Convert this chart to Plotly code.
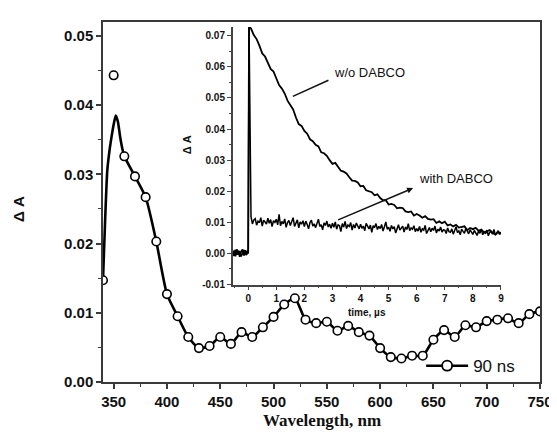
import plotly.graph_objects as go

# ---------------- main spectrum (90 ns) ----------------
wavelength = [340, 350, 360, 370, 380, 390, 400, 410, 420, 430, 440, 450, 460, 470,
              480, 490, 500, 510, 520, 530, 540, 550, 560, 570, 580, 590, 600, 610,
              620, 630, 640, 650, 660, 670, 680, 690, 700, 710, 720, 730, 740, 750]
delta_a = [0.0147, 0.0443, 0.0326, 0.0297, 0.0267, 0.0203, 0.0127, 0.0095, 0.0065, 0.0049,
           0.0052, 0.0065, 0.0055, 0.0072, 0.0065, 0.0079, 0.0094, 0.0112, 0.0121, 0.0090,
           0.0085, 0.0087, 0.0074, 0.0081, 0.0072, 0.0067, 0.0049, 0.0036, 0.0034, 0.0038,
           0.0038, 0.0061, 0.0075, 0.0065, 0.0082, 0.0079, 0.0088, 0.0090, 0.0092, 0.0085,
           0.0098, 0.0102]

# smoothed curve drawn through the spectrum
curve_wl = [340, 342, 344, 346, 348, 350, 352, 354, 356, 358, 360, 370, 380, 390, 400, 410,
            420, 430, 440, 450, 460, 470, 480, 490, 500, 510, 520, 530, 540, 550, 560, 570,
            580, 590, 600, 610, 620, 630, 640, 650, 660, 670, 680, 690, 700, 710, 720, 730,
            740, 750]
curve_val = [0.0147, 0.0234, 0.0305, 0.0333, 0.0354, 0.0372, 0.0385, 0.0376, 0.0355, 0.0338,
             0.0326, 0.0297, 0.0267, 0.0203, 0.0127, 0.0095, 0.0065, 0.0049, 0.0052, 0.0065,
             0.0055, 0.0072, 0.0065, 0.0079, 0.0094, 0.0112, 0.0121, 0.0090, 0.0085, 0.0087,
             0.0074, 0.0081, 0.0072, 0.0067, 0.0049, 0.0036, 0.0034, 0.0038, 0.0038, 0.0061,
             0.0075, 0.0065, 0.0082, 0.0079, 0.0088, 0.0090, 0.0092, 0.0085, 0.0098, 0.0102]

main_xticks = [350, 400, 450, 500, 550, 600, 650, 700, 750]
main_yticks = [0.00, 0.01, 0.02, 0.03, 0.04, 0.05]
main_ytext = ["0.00", "0.01", "0.02", "0.03", "0.04", "0.05"]

# ---------------- inset kinetics ----------------
pre_t = [-0.55, -0.5, -0.45, -0.4, -0.35, -0.3, -0.25, -0.2, -0.15, -0.1, -0.05, 0.0, 0.03]
pre_wo = [0.0005, -0.0008, 0.0012, -0.0004, 0.0009, -0.0011, 0.0006, 0.0013, -0.0007,
          0.0010, -0.0002, 0.0003, 0.0731]
pre_with = [-0.0006, 0.0010, -0.0009, 0.0014, -0.0003, 0.0008, -0.0010, 0.0004, 0.0011,
            -0.0005, 0.0007, 0.0000, 0.0729]

# w/o DABCO, sampled every 0.1 us from 0.1 us
a_wo = [0.0723, 0.0702, 0.0689, 0.0668, 0.0643, 0.0633, 0.0612, 0.0593, 0.0585, 0.0561,
        0.0541, 0.0530, 0.0514, 0.0491, 0.0477, 0.0463, 0.0437, 0.0416, 0.0410, 0.0394,
        0.0385, 0.0367, 0.0361, 0.0349, 0.0344, 0.0325, 0.0322, 0.0314, 0.0300, 0.0288,
        0.0291, 0.0277, 0.0266, 0.0263, 0.0257, 0.0245, 0.0234, 0.0233, 0.0228, 0.0216,
        0.0217, 0.0203, 0.0201, 0.0197, 0.0187, 0.0190, 0.0178, 0.0171, 0.0171, 0.0157,
        0.0159, 0.0156, 0.0145, 0.0147, 0.0146, 0.0135, 0.0133, 0.0135, 0.0122, 0.0127,
        0.0122, 0.0115, 0.0120, 0.0111, 0.0109, 0.0110, 0.0098, 0.0103, 0.0097, 0.0102,
        0.0090, 0.0093, 0.0087, 0.0092, 0.0083, 0.0085, 0.0087, 0.0075, 0.0082, 0.0078,
        0.0082, 0.0073, 0.0077, 0.0068, 0.0072, 0.0075, 0.0066, 0.0061, 0.0068, 0.0066]
t_wo = [round(0.1 + 0.1 * i, 2) for i in range(len(a_wo))]

# with DABCO, sampled every 0.05 us from 0.1 us
a_with = [0.0118, 0.0095, 0.0108, 0.0112, 0.0091, 0.0104, 0.0099, 0.0115, 0.0088, 0.0107,
          0.0101, 0.0094, 0.0113, 0.0097, 0.0109, 0.0086, 0.0105, 0.0100,
          0.0110, 0.0092, 0.0126, 0.0089, 0.0103, 0.0095, 0.0111, 0.0084, 0.0099, 0.0106,
          0.0090, 0.0102, 0.0115, 0.0087, 0.0096, 0.0108, 0.0082, 0.0101, 0.0094, 0.0105,
          0.0086, 0.0104, 0.0093, 0.0079, 0.0099, 0.0107, 0.0088, 0.0095, 0.0083, 0.0101,
          0.0110, 0.0087, 0.0092, 0.0076, 0.0098, 0.0090, 0.0104, 0.0085, 0.0094, 0.0081,
          0.0097, 0.0084, 0.0101, 0.0078, 0.0092, 0.0089, 0.0070, 0.0096, 0.0085, 0.0103,
          0.0080, 0.0091, 0.0087, 0.0099, 0.0075, 0.0093, 0.0082, 0.0098, 0.0086, 0.0079,
          0.0094, 0.0081, 0.0088, 0.0073, 0.0097, 0.0085, 0.0079, 0.0091, 0.0068, 0.0089,
          0.0083, 0.0096, 0.0077, 0.0087, 0.0080, 0.0093, 0.0072, 0.0086, 0.0101, 0.0078,
          0.0084, 0.0071, 0.0090, 0.0079, 0.0086, 0.0066, 0.0083, 0.0092, 0.0075, 0.0081,
          0.0088, 0.0069, 0.0085, 0.0077, 0.0096, 0.0073, 0.0082, 0.0078, 0.0089, 0.0070,
          0.0080, 0.0072, 0.0087, 0.0068, 0.0079, 0.0075, 0.0090, 0.0064, 0.0077, 0.0083,
          0.0070, 0.0081, 0.0074, 0.0088, 0.0066, 0.0078, 0.0072, 0.0085, 0.0069, 0.0076,
          0.0075, 0.0064, 0.0082, 0.0070, 0.0068, 0.0079, 0.0062, 0.0074, 0.0086, 0.0067,
          0.0072, 0.0060, 0.0078, 0.0071, 0.0065, 0.0081, 0.0069, 0.0063, 0.0076, 0.0070,
          0.0061, 0.0074, 0.0067, 0.0058, 0.0072, 0.0065, 0.0078, 0.0060, 0.0069, 0.0063,
          0.0075, 0.0057, 0.0068, 0.0071, 0.0062, 0.0077, 0.0059, 0.0066, 0.0073, 0.0061,
          0.0067]
t_with = [round(0.1 + 0.05 * i, 2) for i in range(len(a_with))]

inset_xticks = [0, 1, 2, 3, 4, 5, 6, 7, 8, 9]
inset_yticks = [-0.01, 0.00, 0.01, 0.02, 0.03, 0.04, 0.05, 0.06, 0.07]
inset_ytext = ["-0.01", "0.00", "0.01", "0.02", "0.03", "0.04", "0.05", "0.06", "0.07"]

SANS = "Liberation Sans, Arial, sans-serif"
SERIF = "Liberation Serif, Times New Roman, serif"
FRAME = "#3a3a3a"

fig = go.Figure()

# spectrum: smoothed line, markers, legend entry
fig.add_trace(go.Scatter(x=curve_wl, y=curve_val, mode="lines", showlegend=False,
                         line=dict(color="black", width=2.6, shape="spline", smoothing=0.6),
                         xaxis="x", yaxis="y", hoverinfo="skip"))
fig.add_trace(go.Scatter(x=wavelength, y=delta_a, mode="markers", showlegend=False,
                         marker=dict(color="white", size=8.5, line=dict(color="black", width=1.6)),
                         xaxis="x", yaxis="y"))
fig.add_trace(go.Scatter(x=[None], y=[None], mode="lines+markers", name="90 ns",
                         line=dict(color="black", width=2.6),
                         marker=dict(color="white", size=10, line=dict(color="black", width=1.8)),
                         xaxis="x", yaxis="y"))

# inset kinetics
fig.add_trace(go.Scatter(x=pre_t + t_with, y=pre_with + a_with, mode="lines", showlegend=False,
                         line=dict(color="black", width=1.5), xaxis="x2", yaxis="y2"))
fig.add_trace(go.Scatter(x=pre_t + t_wo, y=pre_wo + a_wo, mode="lines", showlegend=False,
                         line=dict(color="black", width=1.8), xaxis="x2", yaxis="y2"))

fig.update_layout(
    width=557, height=435,
    margin=dict(l=95, r=14, t=12, b=61),
    paper_bgcolor="white", plot_bgcolor="white",
    showlegend=True,
    legend=dict(x=0.728, y=0.044, xanchor="left", yanchor="middle", itemwidth=42,
                bgcolor="rgba(0,0,0,0)", borderwidth=0,
                font=dict(family=SANS, size=17, color="#111")),
    xaxis=dict(range=[340, 750], domain=[0, 1], tickvals=main_xticks,
               ticks="outside", ticklen=5, tickwidth=1.5, tickcolor=FRAME,
               minor=dict(dtick=25, ticks="outside", ticklen=3, tickwidth=1.2, tickcolor=FRAME),
               showline=True, linecolor=FRAME, linewidth=1.5, mirror=True,
               showgrid=False, zeroline=False,
               tickfont=dict(family=SANS, size=15, color="#111", weight="bold"),
               anchor="y"),
    yaxis=dict(range=[0, 0.052], domain=[0, 1], tickvals=main_yticks, ticktext=main_ytext,
               ticks="outside", ticklen=5, tickwidth=1.5, tickcolor=FRAME,
               minor=dict(dtick=0.005, ticks="outside", ticklen=3, tickwidth=1.2, tickcolor=FRAME),
               showline=True, linecolor=FRAME, linewidth=1.5, mirror=True,
               showgrid=False, zeroline=False,
               tickfont=dict(family=SANS, size=15, color="#111", weight="bold"),
               anchor="x"),
    xaxis2=dict(range=[-0.55, 9.0], domain=[0.2969, 0.9107], tickvals=inset_xticks,
                ticks="outside", ticklen=4, tickwidth=1.2, tickcolor="#444",
                minor=dict(dtick=0.5, ticks="outside", ticklen=2, tickwidth=1, tickcolor="#444"),
                showline=True, linecolor="#444", linewidth=1.5, mirror=False,
                showgrid=False, zeroline=False,
                tickfont=dict(family=SANS, size=10, color="#111", weight="bold"),
                anchor="y2"),
    yaxis2=dict(range=[-0.01, 0.0728], domain=[0.2707, 0.9862], tickvals=inset_yticks,
                ticktext=inset_ytext,
                ticks="outside", ticklen=4, tickwidth=1.2, tickcolor="#444",
                minor=dict(dtick=0.005, ticks="outside", ticklen=2, tickwidth=1, tickcolor="#444"),
                showline=True, linecolor="#444", linewidth=1.5, mirror=False,
                showgrid=False, zeroline=False,
                tickfont=dict(family=SANS, size=10, color="#111", weight="bold"),
                anchor="x2"),
)

annotations = [
    dict(text="<b>Δ A</b>", xref="paper", yref="paper", x=-0.195, y=0.48,
         xanchor="center", yanchor="middle",
         textangle=-90, showarrow=False, font=dict(family=SANS, size=15, color="#111")),
    dict(text="<b>Wavelength, nm</b>", xref="paper", yref="paper", x=0.5, y=-0.108,
         xanchor="center", yanchor="middle", showarrow=False,
         font=dict(family=SERIF, size=17, color="#111")),
    dict(text="<b>Δ A</b>", xref="paper", yref="paper", x=0.192, y=0.660,
         xanchor="center", yanchor="middle",
         textangle=-90, showarrow=False, font=dict(family=SANS, size=11, color="#111")),
    dict(text="<b>time, µs</b>", xref="paper", yref="paper", x=0.603, y=0.193,
         xanchor="center", yanchor="middle", showarrow=False,
         font=dict(family=SANS, size=10, color="#111")),
    dict(text="w/o DABCO", xref="x2", yref="y2", x=4.33, y=0.0581,
         xanchor="center", yanchor="middle",
         showarrow=False, font=dict(family=SANS, size=13, color="#111")),
    dict(text="with DABCO", xref="x2", yref="y2", x=7.39, y=0.0240,
         xanchor="center", yanchor="middle",
         showarrow=False, font=dict(family=SANS, size=13, color="#111")),
    dict(text="", xref="x2", yref="y2", x=1.59, y=0.0505, axref="x2", ayref="y2",
         ax=2.91, ay=0.0559, showarrow=True, arrowhead=0, arrowwidth=1.5,
         arrowcolor="#111", standoff=0, startstandoff=0),
    dict(text="", xref="x2", yref="y2", x=5.87, y=0.0210, axref="x2", ayref="y2",
         ax=3.15, ay=0.0106, showarrow=True, arrowhead=2, arrowsize=0.8, arrowwidth=1.5,
         arrowcolor="#111", standoff=0, startstandoff=0),
]
fig.update_layout(annotations=annotations)

fig.write_html("out.html")
